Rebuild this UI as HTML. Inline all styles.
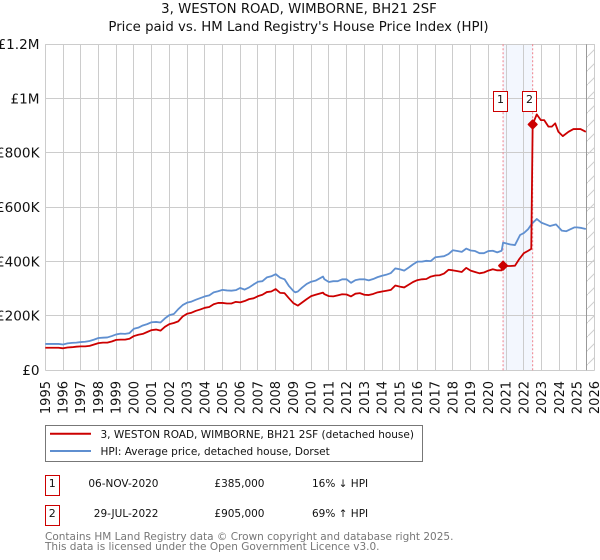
<!DOCTYPE html>
<html>
<head>
<meta charset="utf-8">
<title>3, WESTON ROAD, WIMBORNE, BH21 2SF</title>
<style>
html,body{margin:0;padding:0;background:#fff;}
svg{display:block;font-family:"DejaVu Sans","Liberation Sans",sans-serif;}
</style>
</head>
<body>
<svg id="chart" xmlns="http://www.w3.org/2000/svg" width="600" height="560" viewBox="0 0 600 560">
  <defs>
    <pattern id="hatch" patternUnits="userSpaceOnUse" width="14" height="14">
      <line x1="0" y1="14" x2="14" y2="0" stroke="#cfcfcf" stroke-width="1"></line>
    </pattern>
  </defs>
  <text x="299" y="13" text-anchor="middle" font-size="13.3" fill="#111">3, WESTON ROAD, WIMBORNE, BH21 2SF</text>
  <text x="298.5" y="31" text-anchor="middle" font-size="13.3" fill="#111">Price paid vs. HM Land Registry's House Price Index (HPI)</text>
  <g id="plot"></g>

  <g>
    <rect x="45.5" y="425.5" width="377" height="36" fill="#fff" stroke="#777" stroke-width="1"></rect>
    <line x1="50" y1="433.7" x2="91" y2="433.7" stroke="#cc0000" stroke-width="2"></line>
    <text x="100.5" y="438" font-size="10.5" fill="#111">3, WESTON ROAD, WIMBORNE, BH21 2SF (detached house)</text>
    <line x1="50" y1="451" x2="91" y2="451" stroke="#5f8fd0" stroke-width="2"></line>
    <text x="100.5" y="455" font-size="10.5" fill="#111">HPI: Average price, detached house, Dorset</text>
  </g>

  <g>
    <rect x="45.5" y="475.5" width="14" height="20" fill="#fff" stroke="#cc0000" stroke-width="1"></rect>
    <text x="52.3" y="487" text-anchor="middle" font-size="11" fill="#111">1</text>
    <text x="158.5" y="487" text-anchor="end" font-size="10.5" fill="#111">06-NOV-2020</text>
    <text x="264.5" y="487" text-anchor="end" font-size="10.5" fill="#111">£385,000</text>
    <text x="312" y="487" font-size="10.5" fill="#111">16% ↓ HPI</text>
  </g>
  <g>
    <rect x="45.5" y="505.5" width="14" height="20" fill="#fff" stroke="#cc0000" stroke-width="1"></rect>
    <text x="52.3" y="517" text-anchor="middle" font-size="11" fill="#111">2</text>
    <text x="158.5" y="517" text-anchor="end" font-size="10.5" fill="#111">29-JUL-2022</text>
    <text x="264.5" y="517" text-anchor="end" font-size="10.5" fill="#111">£905,000</text>
    <text x="312" y="517" font-size="10.5" fill="#111">69% ↑ HPI</text>
  </g>

  <text x="45" y="540" font-size="10.5" fill="#777">Contains HM Land Registry data © Crown copyright and database right 2025.</text>
  <text x="45" y="550" font-size="10.5" fill="#777">This data is licensed under the Open Government Licence v3.0.</text>
</svg>
<script>
var yTickValues = [0, 200000, 400000, 600000, 800000, 1000000, 1200000];
var yTickLabels = ['£0', '£200K', '£400K', '£600K', '£800K', '£1M', '£1.2M'];
var xTickYears = [1995,1996,1997,1998,1999,2000,2001,2002,2003,2004,2005,2006,2007,2008,2009,2010,2011,2012,2013,2014,2015,2016,2017,2018,2019,2020,2021,2022,2023,2024,2025,2026];

var hpiDates = [
1995,1995.25,1995.5,1995.75,1996,1996.25,1996.5,1996.75,1997,1997.25,1997.5,1997.75,
1998,1998.25,1998.5,1998.75,1999,1999.25,1999.5,1999.75,2000,2000.25,2000.5,2000.75,
2001,2001.25,2001.5,2001.75,2002,2002.25,2002.5,2002.75,2003,2003.25,2003.5,2003.75,
2004,2004.25,2004.5,2004.75,2005,2005.25,2005.5,2005.75,2006,2006.25,2006.5,2006.75,
2007,2007.25,2007.5,2007.75,2008,2008.25,2008.5,2008.75,2009,2009.1,2009.25,2009.5,2009.75,
2010,2010.25,2010.67,2010.75,2011,2011.25,2011.5,2011.75,2012,2012.25,2012.5,2012.75,
2013,2013.25,2013.5,2013.75,2014,2014.25,2014.5,2014.75,2015,2015.25,2015.5,2015.75,
2016,2016.25,2016.5,2016.75,2017,2017.25,2017.5,2017.75,2018,2018.25,2018.5,2018.75,
2019,2019.25,2019.5,2019.75,2020,2020.25,2020.5,2020.75,2020.83,2021,2021.25,2021.5,2021.79,
2022,2022.25,2022.45,2022.73,2023,2023.25,2023.48,2023.82,2024.14,2024.4,2024.62,2024.85,2025,2025.25,2025.5
];
var hpiValues = [
97,97,97,97,95,99,101,102,104,105,108,113,
119,120,121,126,132,135,134,137,153,157,165,170,
177,178,176,191,203,207,225,240,249,253,260,266,
272,276,287,291,296,294,293,295,303,297,305,316,
326,328,342,346,354,341,335,310,292,287,290,305,318,
326,330,345,335,325,328,328,335,335,322,332,335,
335,331,336,343,348,352,358,375,372,367,378,390,
400,400,403,402,416,418,420,428,442,439,436,448,
441,439,431,431,439,440,434,440,470,467,463,461,498,
505,520,539,557,543,537,531,537,514,512,519,526,526,524,520
];

var paidDates = [
1995,1995.25,1995.5,1995.75,1996,1996.25,1996.5,1996.75,1997,1997.25,1997.5,1997.75,
1998,1998.25,1998.5,1998.75,1999,1999.25,1999.5,1999.75,2000,2000.25,2000.5,2000.75,
2001,2001.25,2001.5,2001.75,2002,2002.25,2002.5,2002.75,2003,2003.25,2003.5,2003.75,
2004,2004.25,2004.5,2004.75,2005,2005.25,2005.5,2005.75,2006,2006.25,2006.5,2006.75,
2007,2007.25,2007.5,2007.75,2008,2008.25,2008.5,2008.75,2009,2009.25,2009.5,2009.75,
2010,2010.25,2010.67,2010.75,2011,2011.25,2011.5,2011.75,2012,2012.25,2012.5,2012.75,
2013,2013.25,2013.5,2013.75,2014,2014.25,2014.5,2014.75,2015,2015.25,2015.5,2015.75,
2016,2016.25,2016.5,2016.75,2017,2017.25,2017.5,2017.75,2018,2018.25,2018.5,2018.75,
2019,2019.25,2019.5,2019.75,2020,2020.25,2020.5,2020.75,2020.83,2021,2021.25,2021.5,2021.75,
2022,2022.25,2022.42,2022.5,2022.73,2022.96,2023.15,2023.39,2023.58,2023.77,2023.95,2024.2,2024.52,2024.8,2025.2,2025.5
];
var paidValues = [
83,83,83,83,81,84,85,87,88,88,90,95,
100,102,102,106,112,113,113,116,126,131,134,141,
148,150,146,160,170,174,180,198,208,212,219,224,
230,233,243,248,248,246,246,252,250,255,262,265,
273,278,288,290,299,285,284,265,247,238,250,262,
273,278,286,280,273,272,276,280,279,272,282,284,
278,277,281,287,290,293,296,312,308,305,315,325,
332,335,336,345,349,350,356,370,368,365,362,377,
367,362,357,360,367,372,368,368,385,384,384,385,410,
431,440,447,905,942,921,921,897,897,909,878,862,878,888,888,878
];

var saleLabels = ['1', '2'];
var saleDates = [2020.83, 2022.5];
var salePrices = [385000, 905000];

var svg = document.getElementById('chart');
var plot = document.getElementById('plot');
var NS = 'http://www.w3.org/2000/svg';
var LEFT = 45.3, RIGHT = 594.7, TOP = 44.3, BOTTOM = 370.3;
var X_MIN = 1995, X_MAX = 2026, Y_MAX = 1200000, DATA_END = 2025.55;

function xScale(year) { return LEFT + (year - X_MIN) / (X_MAX - X_MIN) * (RIGHT - LEFT); }
function yScale(value) { return BOTTOM - value / Y_MAX * (BOTTOM - TOP); }
function snap(v) { return Math.round(v - 0.5) + 0.5; }
function make(tag, attrs) {
  var el = document.createElementNS(NS, tag);
  for (var k in attrs) { el.setAttribute(k, attrs[k]); }
  plot.appendChild(el);
  return el;
}
function buildPath(dates, values, scale) {
  var d = '';
  for (var i = 0; i < dates.length; i++) {
    d += (i ? 'L' : 'M') + xScale(dates[i]).toFixed(2) + ' ' + yScale(values[i] * scale).toFixed(2);
  }
  return d;
}

var shade = make('rect', { x: xScale(saleDates[0]), y: TOP, width: xScale(saleDates[1]) - xScale(saleDates[0]), height: BOTTOM - TOP, fill: '#f3f7fe' });



var hatch = make('rect', { x: xScale(DATA_END), y: TOP, width: RIGHT - xScale(DATA_END), height: BOTTOM - TOP, fill: 'url(#hatch)' });



xTickYears.forEach(function (year) {
  var gx = snap(xScale(year));
  var g = make('line', { x1: gx, x2: gx, y1: TOP, y2: BOTTOM, stroke: '#cccccc', 'stroke-width': 1 });
  
  
  var t = make('text', { transform: 'translate(' + (xScale(year) + 4.5) + ',381) rotate(-90)', 'text-anchor': 'end', 'font-size': 13, fill: '#111' });
  t.textContent = String(year);
  
  
});

yTickValues.forEach(function (value, i) {
  var gy = snap(yScale(value));
  var g = make('line', { x1: LEFT, x2: RIGHT, y1: gy, y2: gy, stroke: '#cccccc', 'stroke-width': 1 });
  
  
  var t = make('text', { x: 39.5, y: yScale(value) + 4.7, 'text-anchor': 'end', 'font-size': 13.6, fill: '#111' });
  t.textContent = yTickLabels[i];
  
  
});

var endLine = make('line', { x1: snap(xScale(DATA_END)), x2: snap(xScale(DATA_END)), y1: TOP, y2: BOTTOM, stroke: '#999999', 'stroke-width': 1 });



saleDates.forEach(function (date) {
  var sx = xScale(date);
  var v = make('line', { x1: sx, x2: sx, y1: TOP, y2: BOTTOM, stroke: '#f0808a', 'stroke-width': 1, 'stroke-dasharray': '2 2' });
  
  
});

var hpiLine = make('path', { d: buildPath(hpiDates, hpiValues, 1000), fill: 'none', stroke: '#5f8fd0', 'stroke-width': 1.8, 'stroke-linejoin': 'round' });



var paidLine = make('path', { d: buildPath(paidDates, paidValues, 1000), fill: 'none', stroke: '#cc0000', 'stroke-width': 1.8, 'stroke-linejoin': 'round' });



saleDates.forEach(function (date, i) {
  var sx = xScale(date), sy = yScale(salePrices[i]);
  var dot = make('polygon', { points: (sx - 4) + ',' + sy + ' ' + sx + ',' + (sy - 4) + ' ' + (sx + 4) + ',' + sy + ' ' + sx + ',' + (sy + 4), fill: '#cc0000', stroke: '#cc0000', 'stroke-width': 2, 'stroke-linejoin': 'round' });
  
  
  var box = make('rect', { x: snap(sx - 10), y: 91.5, width: 14, height: 20, fill: '#fff', stroke: '#cc0000', 'stroke-width': 1 });
  
  
  var label = make('text', { x: snap(sx - 10) + 7, y: 103, 'text-anchor': 'middle', 'font-size': 11, fill: '#111' });
  label.textContent = saleLabels[i];
  
  
});
</script>
</body>
</html>
